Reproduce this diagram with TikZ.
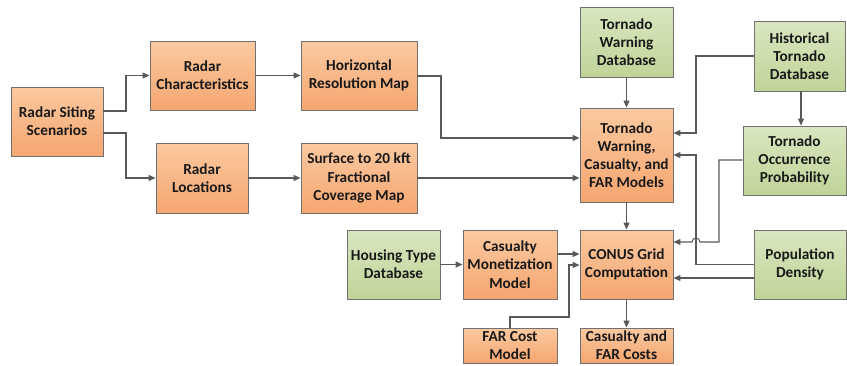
\documentclass[tikz,border=0pt]{standalone}
\usepackage{fontspec}
\setmainfont{Carlito}
\usetikzlibrary{arrows.meta}
\definecolor{orgtop}{HTML}{FBC9A0}
\definecolor{orgbot}{HTML}{F5A670}
\definecolor{grntop}{HTML}{D9E6C0}
\definecolor{grnbot}{HTML}{C0D498}
\definecolor{boxline}{HTML}{707070}
\definecolor{conn}{HTML}{595959}
\tikzset{
  basebox/.style={draw=boxline, line width=0.9pt, align=center, inner sep=1pt,
    font=\fontsize{15.3}{18.2}\selectfont\bfseries, text=black!90},
  obox/.style={basebox, top color=orgtop, bottom color=orgbot},
  gbox/.style={basebox, top color=grntop, bottom color=grnbot},
  arr/.style={draw=conn, line width=1.05pt, -{Triangle[length=7pt,width=6pt]}}
}
\begin{document}
\begin{tikzpicture}[x=1pt,y=-1pt]
\useasboundingbox (0,0) rectangle (847,365);
% nodes
\node[obox, minimum width=92pt, minimum height=69pt] (rss) at (57,121.5) {Radar Siting\\Scenarios};
\node[obox, minimum width=105pt, minimum height=69pt] (rc) at (202.5,75.5) {Radar\\Characteristics};
\node[obox, minimum width=116pt, minimum height=69pt] (hrm) at (359,75.5) {Horizontal\\Resolution Map};
\node[obox, minimum width=92pt, minimum height=70pt] (rl) at (202,178) {Radar\\Locations};
\node[obox, minimum width=116pt, minimum height=70pt] (sfc) at (359,178) {Surface to 20 kft\\Fractional\\Coverage Map};
\node[gbox, minimum width=93pt, minimum height=70pt] (twd) at (626.5,42) {Tornado\\Warning\\Database};
\node[obox, minimum width=93pt, minimum height=94pt] (twm) at (626.5,155) {Tornado\\Warning,\\Casualty, and\\FAR Models};
\node[gbox, minimum width=91pt, minimum height=70pt] (htd) at (799.5,56) {Historical\\Tornado\\Database};
\node[gbox, minimum width=103pt, minimum height=69pt] (top) at (794.5,160.5) {Tornado\\Occurrence\\Probability};
\node[obox, minimum width=93pt, minimum height=69pt] (conus) at (626.5,264.5) {CONUS Grid\\Computation};
\node[gbox, minimum width=92pt, minimum height=69pt] (pd) at (800,264.5) {Population\\Density};
\node[obox, minimum width=93pt, minimum height=35pt] (cfc) at (626.5,345.5) {Casualty and\\FAR Costs};
\node[gbox, minimum width=93pt, minimum height=69pt] (htdb) at (393.5,264.5) {Housing Type\\Database};
\node[obox, minimum width=94pt, minimum height=69pt] (cmm) at (510,264.5) {Casualty\\Monetization\\Model};
\node[obox, minimum width=94pt, minimum height=35pt] (fcm) at (510,345.5) {FAR Cost\\Model};
% coordinates for bends
\coordinate (b1) at (126,111);
\coordinate (b2) at (126,133);
\coordinate (b3) at (441,76);
\coordinate (b4) at (696,56);
\coordinate (b5) at (696,264.5);
\coordinate (b6) at (719,160);
\coordinate (b7) at (719,242);
\coordinate (h1) at (700,242);
\coordinate (b8) at (569,317);
% connectors
\draw[arr] ([yshift=10.5pt]rss.east) -- (b1) |- (rc.west);
\draw[arr] ([yshift=-11.5pt]rss.east) -- (b2) |- (rl.west);
\draw[arr] (rc.east) -- (hrm.west);
\draw[arr] (rl.east) -- (sfc.west);
\draw[arr] ([yshift=-0.5pt]hrm.east) -- (b3) |- ([yshift=17pt]twm.west);
\draw[arr] (sfc.east) -- (sfc.east -| twm.west);
\draw[arr] (twd.south) -- (twm.north);
\draw[arr] ([xshift=1.5pt]htd.south) -- ([xshift=1.5pt]htd.south |- top.north);
\draw[arr] (htd.west) -- (b4) |- ([yshift=22pt]twm.east);
\draw[arr] (pd.west) -- (b5) |- (twm.east);
\draw[arr] ([yshift=0.5pt]top.west) -- (b6) -- (b7) -- (h1) arc[start angle=0, end angle=180, radius=4pt] -- ([yshift=22.5pt]conus.east);
\draw[arr] ([yshift=-13.5pt]pd.west) -- ([yshift=-13.5pt]conus.east);
\draw[arr] (twm.south) -- (conus.north);
\draw[arr] (conus.south) -- (cfc.north);
\draw[arr] (htdb.east) -- (cmm.west);
\draw[arr] ([yshift=10.5pt]cmm.east) -- ([yshift=10.5pt]conus.west);
\draw[arr] (fcm.north) |- (b8) |- ([yshift=-0.5pt]conus.west);
\end{tikzpicture}
\end{document}
